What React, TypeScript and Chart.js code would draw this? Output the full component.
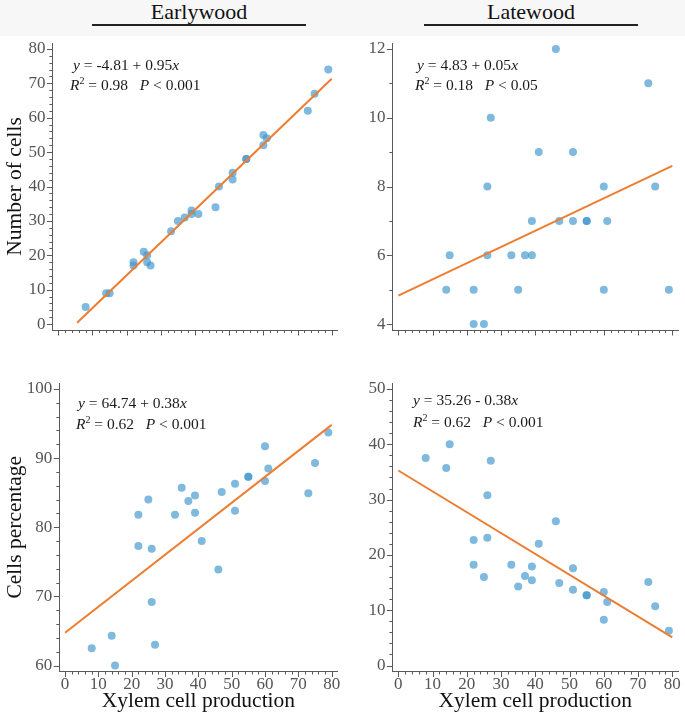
import React, { useEffect, useRef } from "react";
import { Chart, registerables } from "chart.js";

Chart.register(...registerables);

// ---------------- data ----------------
const xylemProduction = [8, 14, 15, 22, 22, 25, 26, 26, 27, 33, 35, 37, 39, 39, 41, 46, 47, 51, 51, 55, 55, 60, 60, 61, 73, 75, 79];
const earlywoodCells = [5, 9, 9, 18, 17, 21, 20, 18, 17, 27, 30, 31, 33, 32, 32, 34, 40, 44, 42, 48, 48, 55, 52, 54, 62, 67, 74];
const latewoodCells = [3, 5, 6, 4, 5, 4, 6, 8, 10, 6, 5, 6, 6, 7, 9, 12, 7, 7, 9, 7, 7, 5, 8, 7, 11, 8, 5];
const earlywoodPct = [62.5, 64.3, 60.0, 81.8, 77.3, 84.0, 76.9, 69.2, 63.0, 81.8, 85.7, 83.8, 84.6, 82.1, 78.0, 73.9, 85.1, 86.3, 82.4, 87.3, 87.3, 91.7, 86.7, 88.5, 84.9, 89.3, 93.7];
const latewoodPct = [37.5, 35.7, 40.0, 18.2, 22.7, 16.0, 23.1, 30.8, 37.0, 18.2, 14.3, 16.2, 15.4, 17.9, 22.0, 26.1, 14.9, 13.7, 17.6, 12.7, 12.7, 8.3, 13.3, 11.5, 15.1, 10.7, 6.3];

// fitted regression lines (end points)
const earlyCellFitX = [5.5, 80];
const earlyCellFitY = [0.4, 71.3];
const lateCellFitX = [0, 80];
const lateCellFitY = [4.83, 8.6];
const earlyPctFitX = [0, 80];
const earlyPctFitY = [64.74, 94.8];
const latePctFitX = [0, 80];
const latePctFitY = [35.26, 5.1];

// tick labels
const xTicks = [0, 10, 20, 30, 40, 50, 60, 70, 80];
const earlyCellTicks = [0, 10, 20, 30, 40, 50, 60, 70, 80];
const lateCellTicks = [4, 6, 8, 10, 12];
const earlyPctTicks = [60, 70, 80, 90, 100];
const latePctTicks = [0, 10, 20, 30, 40, 50];

// ---------------- styling ----------------
const SERIF = "'Liberation Serif', 'Times New Roman', serif";
const POINT_COLOR = "rgba(62,148,205,0.66)";
const LINE_COLOR = "#ED7D31";
const AXIS_COLOR = "#5a5a5a";
const TICK_TEXT = "#555555";
const PAD = 0.0215;

const minorTickPlugin = {
  id: "minorTicks",
  afterDraw(chart: any, _args: any, opts: any) {
    const ctx = chart.ctx;
    const area = chart.chartArea;
    ctx.save();
    ctx.strokeStyle = AXIS_COLOR;
    ctx.lineWidth = 1;
    const drawAxis = (scale: any, step: number, majors: number[], horizontal: boolean) => {
      const startI = Math.ceil(scale.min / step - 1e-9);
      const endI = Math.floor(scale.max / step + 1e-9);
      for (let i = startI; i <= endI; i++) {
        const v = i * step;
        const isMajor = majors.some((m) => Math.abs(m - v) < 1e-6);
        const len = isMajor ? 5.5 : 3;
        const p = Math.round(scale.getPixelForValue(v)) + 0.5;
        ctx.beginPath();
        if (horizontal) {
          ctx.moveTo(p, area.bottom);
          ctx.lineTo(p, area.bottom + len);
        } else {
          ctx.moveTo(area.left, p);
          ctx.lineTo(area.left - len, p);
        }
        ctx.stroke();
      }
    };
    drawAxis(chart.scales.x, opts.xStep, opts.xMajors, true);
    drawAxis(chart.scales.y, opts.yStep, opts.yMajors, false);
    ctx.restore();
  },
};

type PanelCfg = {
  left: number;
  top: number;
  width: number;
  height: number;
  yAxisW: number;
  xAxisH: number;
  padTop: number;
  padRight: number;
  values: number[];
  fitX: number[];
  fitY: number[];
  yTicks: number[];
  yStep: number;
  showXLabels: boolean;
  xTitle?: string;
  yTitle?: string;
};

function Panel({ cfg }: { cfg: PanelCfg }) {
  const ref = useRef<HTMLCanvasElement | null>(null);
  useEffect(() => {
    if (!ref.current) return;
    const yLo = cfg.yTicks[0];
    const yHi = cfg.yTicks[cfg.yTicks.length - 1];
    const yR = yHi - yLo;
    const xLo = xTicks[0];
    const xHi = xTicks[xTicks.length - 1];
    const xR = xHi - xLo;
    const chart = new Chart(ref.current, {
      type: "scatter",
      data: {
        datasets: [
          {
            data: cfg.fitX.map((x, i) => ({ x, y: cfg.fitY[i] })),
            showLine: true,
            borderColor: LINE_COLOR,
            borderWidth: 2,
            pointRadius: 0,
            fill: false,
          } as any,
          {
            data: xylemProduction.map((x, i) => ({ x, y: cfg.values[i] })),
            backgroundColor: POINT_COLOR,
            borderWidth: 0,
            pointRadius: 4,
          },
        ],
      },
      options: {
        responsive: false,
        animation: false,
        events: [],
        layout: { padding: { top: cfg.padTop, right: cfg.padRight, left: 0, bottom: 0 } },
        plugins: {
          legend: { display: false },
          tooltip: { enabled: false },
          minorTicks: { xStep: 2, yStep: cfg.yStep, xMajors: xTicks, yMajors: cfg.yTicks },
        } as any,
        scales: {
          x: {
            type: "linear",
            min: xLo - PAD * xR,
            max: xHi + PAD * xR,
            grid: { display: false, drawTicks: false },
            border: { display: true, color: AXIS_COLOR, width: 1 },
            ticks: {
              display: cfg.showXLabels,
              font: { family: SERIF, size: 17 },
              color: TICK_TEXT,
              padding: 3,
              maxRotation: 0,
              autoSkip: false,
            },
            afterBuildTicks: (s: any) => {
              s.ticks = xTicks.map((v) => ({ value: v }));
            },
            afterFit: (s: any) => {
              s.height = cfg.xAxisH;
              s.paddingLeft = 0;
              s.paddingRight = 0;
            },
            title: {
              display: !!cfg.xTitle,
              text: cfg.xTitle || "",
              color: "#111",
              font: { family: SERIF, size: 21.5 },
              padding: { top: 0, bottom: 7 },
            },
          },
          y: {
            type: "linear",
            min: yLo - PAD * yR,
            max: yHi + PAD * yR,
            grid: { display: false, drawTicks: false },
            border: { display: true, color: AXIS_COLOR, width: 1 },
            ticks: {
              font: { family: SERIF, size: 17 },
              color: TICK_TEXT,
              padding: 7,
              autoSkip: false,
            },
            afterBuildTicks: (s: any) => {
              s.ticks = cfg.yTicks.map((v) => ({ value: v }));
            },
            afterFit: (s: any) => {
              s.width = cfg.yAxisW;
              s.paddingTop = 0;
              s.paddingBottom = 0;
            },
            title: {
              display: !!cfg.yTitle,
              text: cfg.yTitle || "",
              color: "#111",
              font: { family: SERIF, size: 21.5 },
              padding: { top: 2, bottom: 0 },
            },
          },
        },
      },
      plugins: [minorTickPlugin as any],
    });
    return () => chart.destroy();
  }, [cfg]);
  return (
    <canvas
      ref={ref}
      width={cfg.width}
      height={cfg.height}
      style={{ position: "absolute", left: cfg.left, top: cfg.top, width: cfg.width, height: cfg.height }}
    />
  );
}

const panels: PanelCfg[] = [
  {
    left: 0, top: 36, width: 342, height: 310,
    yAxisW: 52.4, xAxisH: 16, padTop: 7, padRight: 4.4,
    values: earlywoodCells, fitX: earlyCellFitX, fitY: earlyCellFitY,
    yTicks: earlyCellTicks, yStep: 2, showXLabels: false, yTitle: "Number of cells",
  },
  {
    left: 342, top: 36, width: 343, height: 310,
    yAxisW: 50.4, xAxisH: 16, padTop: 7, padRight: 6.8,
    values: latewoodCells, fitX: lateCellFitX, fitY: lateCellFitY,
    yTicks: lateCellTicks, yStep: 1, showXLabels: false,
  },
  {
    left: 0, top: 346, width: 342, height: 375,
    yAxisW: 59.3, xAxisH: 49.5, padTop: 37, padRight: 4.6,
    values: earlywoodPct, fitX: earlyPctFitX, fitY: earlyPctFitY,
    yTicks: earlyPctTicks, yStep: 2, showXLabels: true,
    xTitle: "Xylem cell production", yTitle: "Cells percentage",
  },
  {
    left: 342, top: 346, width: 343, height: 375,
    yAxisW: 50.4, xAxisH: 49.5, padTop: 37, padRight: 6.8,
    values: latewoodPct, fitX: latePctFitX, fitY: latePctFitY,
    yTicks: latePctTicks, yStep: 2, showXLabels: true,
    xTitle: "Xylem cell production",
  },
];

const eqStyle: React.CSSProperties = {
  position: "absolute",
  fontFamily: SERIF,
  fontSize: 15.5,
  lineHeight: "18px",
  color: "#1a1a1a",
  whiteSpace: "pre",
};
const supStyle: React.CSSProperties = { fontSize: 10, verticalAlign: "6px", lineHeight: 0 };

function Eq({ left1, top1, left2, top2, a, b, sign, r2, p }: any) {
  return (
    <>
      <div style={{ ...eqStyle, left: left1, top: top1 }}>
        <i>y</i>{` = ${a} ${sign} ${b}`}<i>x</i>
      </div>
      <div style={{ ...eqStyle, left: left2, top: top2 }}>
        <i>R</i><span style={supStyle}>2</span>{` = ${r2}   `}<i>P</i>{` < ${p}`}
      </div>
    </>
  );
}

const titleStyle: React.CSSProperties = {
  position: "absolute",
  fontFamily: SERIF,
  fontSize: 22,
  lineHeight: "24px",
  color: "#111",
  textAlign: "center",
  top: 0,
};

export default function App() {
  useEffect(() => {
    document.body.style.margin = "0";
    document.body.style.background = "#fff";
  }, []);
  return (
    <div style={{ position: "relative", width: 685, height: 721, background: "#fff", overflow: "hidden" }}>
      <div style={{ position: "absolute", left: 0, top: 0, width: 685, height: 36, background: "#f7f7f7" }} />
      <div style={{ ...titleStyle, left: 92, width: 214 }}>Earlywood</div>
      <div style={{ position: "absolute", left: 92, top: 24, width: 214, height: 2, background: "#222" }} />
      <div style={{ ...titleStyle, left: 424, width: 214 }}>Latewood</div>
      <div style={{ position: "absolute", left: 424, top: 24, width: 214, height: 2, background: "#222" }} />
      {panels.map((p, i) => (
        <Panel key={i} cfg={p} />
      ))}
      <Eq left1={73} top1={56} left2={70} top2={76} a="-4.81" sign="+" b="0.95" r2="0.98" p="0.001" />
      <Eq left1={417} top1={56} left2={415} top2={76} a="4.83" sign="+" b="0.05" r2="0.18" p="0.05" />
      <Eq left1={78} top1={394} left2={76} top2={415} a="64.74" sign="+" b="0.38" r2="0.62" p="0.001" />
      <Eq left1={413} top1={391} left2={413} top2={413} a="35.26" sign="-" b="0.38" r2="0.62" p="0.001" />
    </div>
  );
}
